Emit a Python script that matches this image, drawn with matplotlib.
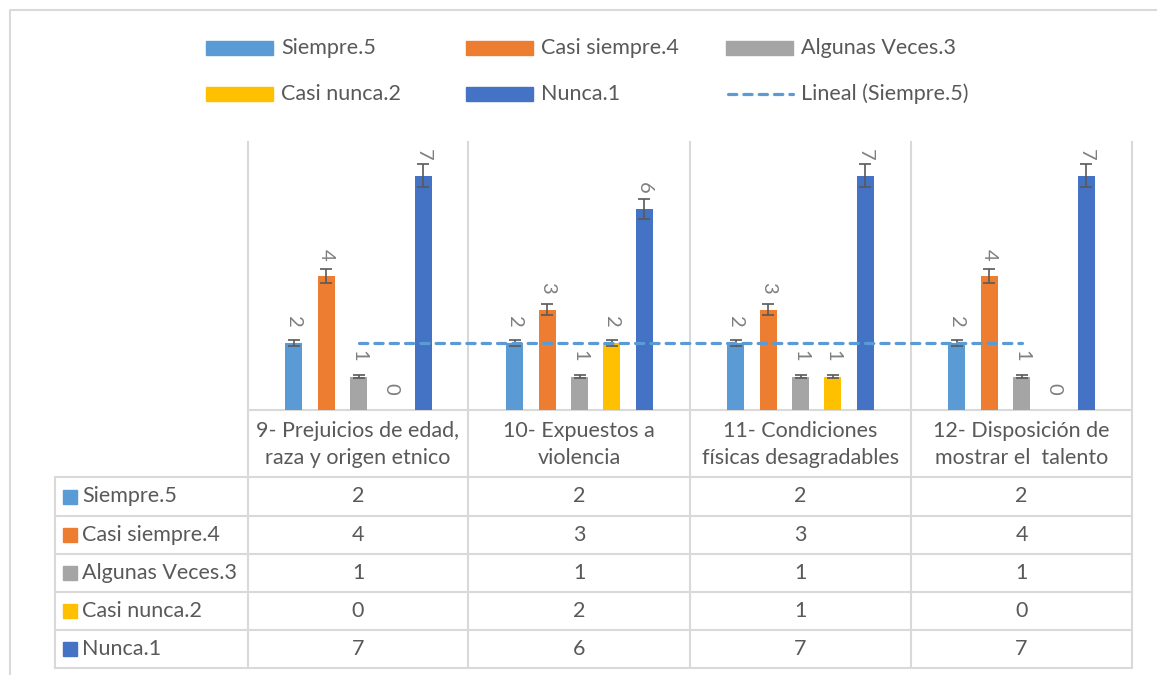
import numpy as np
import matplotlib
matplotlib.use("Agg")
import matplotlib.pyplot as plt
from matplotlib.patches import Rectangle

plt.rcParams['font.family'] = ['Lato', 'DejaVu Sans']

# datos
categorias = ["9- Prejuicios de edad,\nraza y origen etnico",
              "10- Expuestos a\nviolencia",
              "11- Condiciones\nfísicas desagradables",
              "12- Disposición de\nmostrar el  talento"]
series = ["Siempre.5", "Casi siempre.4", "Algunas Veces.3", "Casi nunca.2", "Nunca.1"]
siempre = [2, 2, 2, 2]
casi_siempre = [4, 3, 3, 4]
algunas_veces = [1, 1, 1, 1]
casi_nunca = [0, 2, 1, 0]
nunca = [7, 6, 7, 7]
valores = [siempre, casi_siempre, algunas_veces, casi_nunca, nunca]
colores = ['#5B9BD5', '#ED7D31', '#A5A5A5', '#FFC000', '#4472C4']
tendencia = "Lineal (Siempre.5)"

W, H = 1157, 675
gris_txt = '#595959'
gris_lin = '#D9D9D9'
fs = 15.5

fig = plt.figure(figsize=(W / 100, H / 100), dpi=100)

# capa de fondo en pixeles (bordes, tabla, leyenda)
bg = fig.add_axes([0, 0, 1, 1], zorder=0)
bg.set_xlim(0, W)
bg.set_ylim(H, 0)
bg.axis('off')

# grafico de barras
x0, x1, y0, y1 = 248, 1132, 142, 410
ax = fig.add_axes([x0 / W, 1 - y1 / H, (x1 - x0) / W, (y1 - y0) / H], zorder=1)
ax.patch.set_alpha(0)
for s in ax.spines.values():
    s.set_visible(False)
ax.set_xticks([])
ax.set_yticks([])
ax.set_xlim(-0.5, len(categorias) - 0.5)
ax.set_ylim(0, 8)

x = np.arange(len(categorias))
paso = 0.146
ancho = 0.077
for i, (vals, col) in enumerate(zip(valores, colores)):
    pos = x + (i - 2) * paso
    vals = np.array(vals)
    ax.bar(pos, vals, ancho, color=col, zorder=2)
    m = vals > 0
    ax.errorbar(pos[m], vals[m], yerr=vals[m] * 0.05, fmt='none', ecolor=gris_txt,
                elinewidth=1.2, capsize=4.3, capthick=1.2, zorder=3)
    for p, v in zip(pos, vals):
        ax.annotate(str(v), (p, v), xytext=(0, 11), textcoords='offset points',
                    rotation=-90, ha='center', va='bottom', color='#7F7F7F',
                    fontsize=14.5, clip_on=False)

# linea de tendencia lineal de Siempre.5
coef = np.polyfit(x + 1, siempre, 1)
ax.plot(x, np.polyval(coef, x + 1), color='#5B9BD5', lw=2.3,
        linestyle=(0, (2.6, 2.2)), dash_capstyle='round', zorder=4)

# borde exterior
bg.plot([10, 10, W], [H, 10, 10], color=gris_lin, lw=1.5)

# tabla de datos
cols = [248, 468, 690, 911, 1132]
filas = [477, 516, 554, 592, 630, 668]
bg.plot([x0, x1], [y1, y1], color=gris_lin, lw=1.5)
for cx in cols:
    bg.plot([cx, cx], [y0, filas[-1]], color=gris_lin, lw=1.5)
bg.plot([55, 55], [filas[0], filas[-1]], color=gris_lin, lw=1.5)
for fy in filas:
    bg.plot([55, x1], [fy, fy], color=gris_lin, lw=1.5)

for j, cat in enumerate(categorias):
    bg.text((cols[j] + cols[j + 1]) / 2, (y1 + filas[0]) / 2 + 1, cat, ha='center',
            va='center', fontsize=fs, color=gris_txt, linespacing=1.38)

for i, (nombre, vals, col) in enumerate(zip(series, valores, colores)):
    cy = (filas[i] + filas[i + 1]) / 2
    bg.add_patch(Rectangle((63, cy - 7), 14, 14, color=col))
    bg.text(82, cy, nombre, ha='left', va='center', fontsize=fs, color=gris_txt)
    for j, v in enumerate(vals):
        bg.text((cols[j] + cols[j + 1]) / 2, cy, str(v), ha='center', va='center',
                fontsize=fs, color=gris_txt)

# leyenda
leg_x = [206, 466, 726, 206, 466]
leg_y = [48, 48, 48, 94, 94]
for nombre, col, lx, ly in zip(series, colores, leg_x, leg_y):
    bg.add_patch(Rectangle((lx, ly - 7), 67, 14, color=col))
    bg.text(lx + 75, ly, nombre, ha='left', va='center', fontsize=fs, color=gris_txt)
bg.plot([728, 793], [94, 94], color='#5B9BD5', lw=2.3, linestyle=(0, (2.6, 2.2)),
        dash_capstyle='round')
bg.text(801, 94, tendencia, ha='left', va='center', fontsize=fs, color=gris_txt)

plt.savefig("out.png", dpi=100)
